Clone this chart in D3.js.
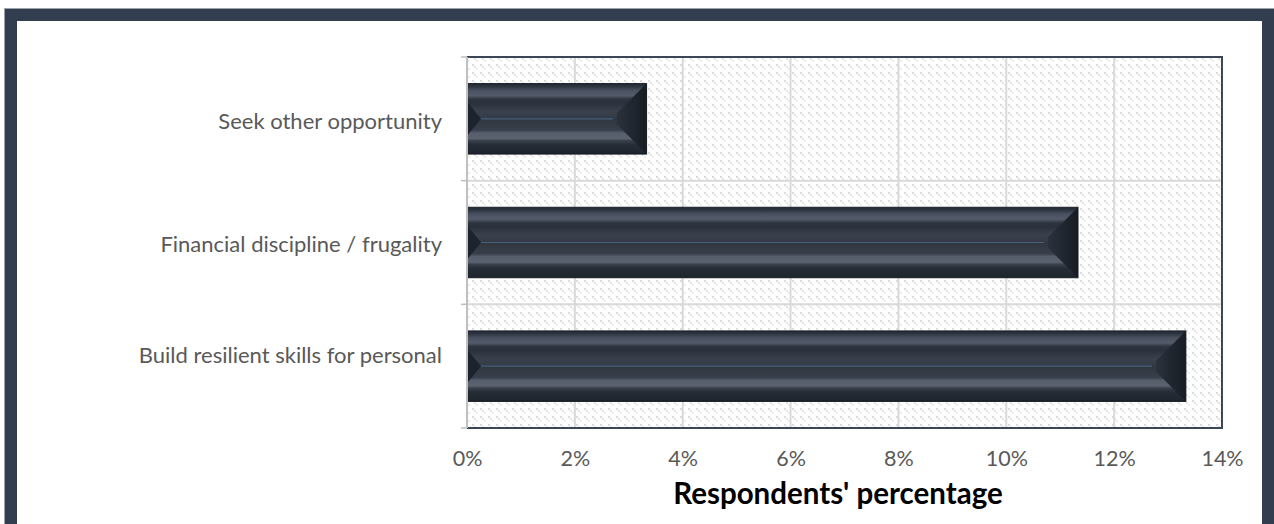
<!DOCTYPE html>
<html>
<head>
<meta charset="utf-8">
<script src="https://cdn.jsdelivr.net/npm/d3@7"></script>
<style>
  html, body { margin: 0; padding: 0; background: #ffffff; }
  svg { display: block; }
</style>
</head>
<body>
<svg id="chart" width="1274" height="524"></svg>
<script>
// Reasons given by respondents, listed top to bottom
const categories = [
  "Seek other opportunity",
  "Financial discipline / frugality",
  "Build resilient skills for personal"
];
// Share of respondents (percent)
const values = [3.33, 11.33, 13.33];
// Axis tick values (percent)
const tickValues = [0, 2, 4, 6, 8, 10, 12, 14];
const axisTitle = "Respondents' percentage";

const svg = d3.select("#chart");
const plot = { left: 467, right: 1222, top: 57, bottom: 428 };
const labelFont = "Lato, 'Open Sans', sans-serif";

const defs = svg.append("defs");

// Dotted diagonal fill for the plot area
const pat = defs.append("pattern")
  .attr("id", "dots").attr("patternUnits", "userSpaceOnUse")
  .attr("width", 8).attr("height", 8);
pat.append("rect").attr("width", 8).attr("height", 8).attr("fill", "#ffffff");
[[0, 0, "#dcdcdc"], [2, 2, "#e2e2e2"], [4, 4, "#ececec"]].forEach(([px, py, c]) => {
  pat.append("rect").attr("x", px).attr("y", py).attr("width", 2).attr("height", 2)
    .attr("fill", c);
});

// Bevelled bar shading (vertical)
const bodyGrad = defs.append("linearGradient")
  .attr("id", "barBody").attr("x1", 0).attr("y1", 0).attr("x2", 0).attr("y2", 1);
[
  [0.00, "#232934"], [0.04, "#2e3541"], [0.10, "#4a5261"], [0.17, "#535b6a"],
  [0.22, "#2f3540"], [0.27, "#2a303b"], [0.40, "#3a414d"], [0.49, "#343b47"],
  [0.51, "#30373f"], [0.66, "#383f4b"], [0.70, "#565e6c"], [0.78, "#5b6371"],
  [0.81, "#393f4b"], [0.87, "#262c36"], [0.97, "#20262f"], [1.00, "#1a1f27"]
].forEach(([o, c]) => bodyGrad.append("stop").attr("offset", o).attr("stop-color", c));

const endGrad = defs.append("linearGradient")
  .attr("id", "barEnd").attr("x1", 0).attr("y1", 0).attr("x2", 1).attr("y2", 0);
endGrad.append("stop").attr("offset", 0).attr("stop-color", "#2b323d");
endGrad.append("stop").attr("offset", 1).attr("stop-color", "#171c23");

// Outer frame
svg.append("rect")
  .attr("x", 11).attr("y", 15).attr("width", 1257).attr("height", 530)
  .attr("fill", "#ffffff").attr("stroke", "#323e50").attr("stroke-width", 12);
svg.append("rect")
  .attr("x", 4.5).attr("y", 8.5).attr("width", 1275).attr("height", 540)
  .attr("fill", "none").attr("stroke", "#9aa1ab").attr("stroke-width", 1);

// Scales
const x = d3.scaleLinear().domain([0, 14]).range([plot.left, plot.right]);
const y = d3.scaleBand().domain(categories).range([plot.top, plot.bottom])
  .paddingInner(0.43).paddingOuter(0.215);
const yCells = d3.scaleBand().domain(categories).range([plot.top, plot.bottom]);

// Plot area background
svg.append("rect")
  .attr("x", plot.left).attr("y", plot.top)
  .attr("width", plot.right - plot.left).attr("height", plot.bottom - plot.top)
  .attr("fill", "url(#dots)");

// Vertical gridlines
svg.append("g")
  .selectAll("line").data(tickValues.slice(1, -1)).join("line")
  .attr("x1", d => x(d)).attr("x2", d => x(d))
  .attr("y1", plot.top).attr("y2", plot.bottom)
  .attr("stroke", "#d9d9d9").attr("stroke-width", 2);

// Horizontal gridlines between categories
svg.append("g")
  .selectAll("line").data(categories.slice(1)).join("line")
  .attr("x1", plot.left).attr("x2", plot.right)
  .attr("y1", d => yCells(d)).attr("y2", d => yCells(d))
  .attr("stroke", "#d9d9d9").attr("stroke-width", 2);

// Bars with bevelled ends
const bars = svg.append("g").selectAll("g").data(categories).join("g");
bars.each(function (c, i) {
  const g = d3.select(this);
  const x0 = x(0), x1 = x(values[i]);
  const y0 = y(c), h = y.bandwidth(), y1 = y0 + h, ym = y0 + h / 2;
  g.append("rect").attr("x", x0).attr("y", y0).attr("width", x1 - x0).attr("height", h)
    .attr("fill", "url(#barBody)");
  // thin highlight along the centre
  g.append("line").attr("x1", x0 + 14).attr("x2", x1 - 34)
    .attr("y1", ym).attr("y2", ym)
    .attr("stroke", "#46607c").attr("stroke-width", 1.2);
  // left bevel
  g.append("path")
    .attr("d", `M${x0},${ym - 17}L${x0 + 14},${ym}L${x0},${ym + 17}Z`)
    .attr("fill", "#1d232c");
  // right bevel
  const d = 30;
  g.append("path")
    .attr("d", `M${x1},${y0}L${x1 - d},${y0 + d}L${x1 - d},${y1 - d}L${x1},${y1}Z`)
    .attr("fill", "url(#barEnd)");
  g.append("rect").attr("x", x0).attr("y", y0).attr("width", x1 - x0).attr("height", h)
    .attr("fill", "none").attr("stroke", "#1a1f27").attr("stroke-width", 1);
});

// Plot border: dark top / right / bottom, grey category axis on the left
svg.append("path")
  .attr("d", `M${plot.left},${plot.top}H${plot.right}V${plot.bottom}H${plot.left}`)
  .attr("fill", "none").attr("stroke", "#3d4657").attr("stroke-width", 2);
const yAxis = svg.append("g").attr("transform", `translate(${plot.left},0)`)
  .call(d3.axisLeft(yCells).tickSize(0).tickFormat(""));
yAxis.select(".domain").attr("stroke", "#bfbfbf").attr("stroke-width", 2)
  .attr("d", `M0,${plot.top}V${plot.bottom}`);
// category boundary tick marks
svg.append("g").selectAll("line")
  .data([plot.top, ...categories.slice(1).map(c => yCells(c)), plot.bottom]).join("line")
  .attr("x1", plot.left - 6).attr("x2", plot.left)
  .attr("y1", d => d).attr("y2", d => d)
  .attr("stroke", "#bfbfbf").attr("stroke-width", 1.5);

// Category labels (the last one sits as the first line of a wrapped label)
const labelShift = [2, 2, -11];
svg.append("g").selectAll("text").data(categories).join("text")
  .attr("x", 442)
  .attr("y", (c, i) => yCells(c) + yCells.bandwidth() / 2 + labelShift[i])
  .attr("dy", "0.35em").attr("text-anchor", "end")
  .attr("font-family", labelFont).attr("font-size", 22).attr("fill", "#595959")
  .text(c => c);

// Value axis
const xAxis = svg.append("g").attr("transform", `translate(0,${plot.bottom})`)
  .call(d3.axisBottom(x).tickValues(tickValues).tickSize(0).tickPadding(0)
    .tickFormat(d => d + "%"));
xAxis.select(".domain").remove();
xAxis.selectAll("text")
  .attr("y", 38).attr("dy", 0)
  .attr("font-family", labelFont).attr("font-size", 21.5).attr("fill", "#595959");

// Axis title
svg.append("text")
  .attr("x", 838).attr("y", 504).attr("text-anchor", "middle")
  .attr("font-family", labelFont).attr("font-weight", "bold")
  .attr("font-size", 29.5).attr("fill", "#000000")
  .text(axisTitle);
</script>
</body>
</html>
